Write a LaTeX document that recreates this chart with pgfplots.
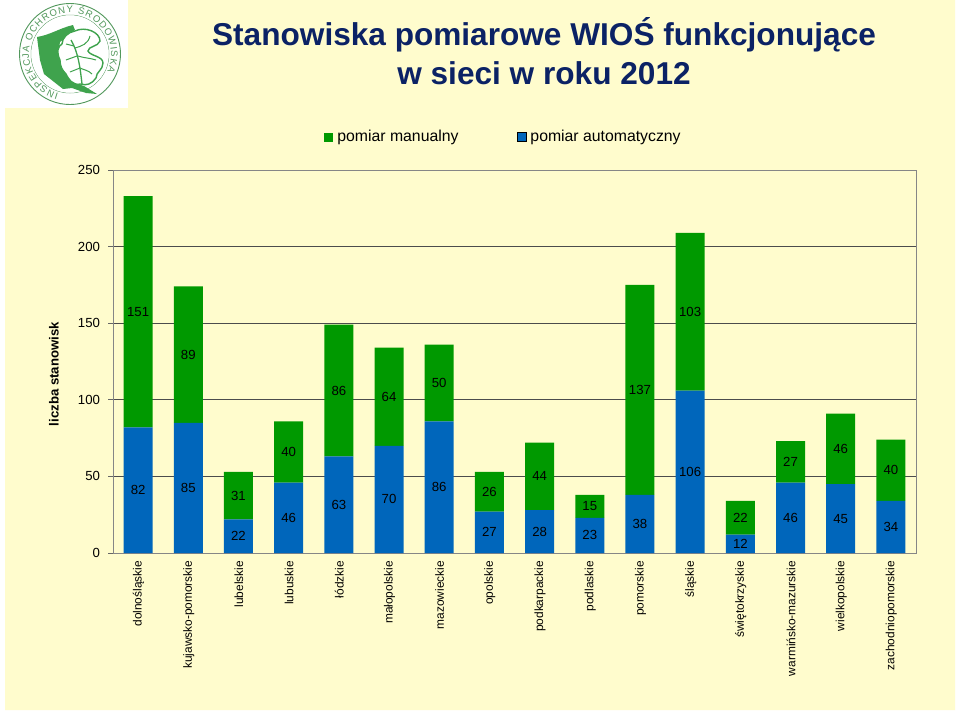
\documentclass[border=0pt]{standalone}
\usepackage{fontspec}
\setmainfont{Liberation Sans}
\usepackage{pgfplots}
\pgfplotsset{compat=1.18}
\usetikzlibrary{decorations.text}
\definecolor{cream}{HTML}{FFFCCD}
\definecolor{barg}{HTML}{009900}
\definecolor{barb}{HTML}{0066BB}
\definecolor{navy}{HTML}{0B2265}
\definecolor{axg}{HTML}{868686}
\definecolor{logog}{HTML}{3FA34D}
\pgfplotstableread{
x v
0 82
1 85
2 22
3 46
4 63
5 70
6 86
7 27
8 28
9 23
10 38
11 106
12 12
13 46
14 45
15 34
}\blue
\pgfplotstableread{
x v
0 151
1 89
2 31
3 40
4 86
5 64
6 50
7 26
8 44
9 15
10 137
11 103
12 22
13 27
14 46
15 40
}\green
\begin{document}
\begin{tikzpicture}[x=1pt,y=-1pt,every node/.style={inner sep=0pt,outer sep=0pt}]
\path[use as bounding box] (0,0) rectangle (960,716);
\fill[white] (0,0) rectangle (960,716);
\fill[cream] (128,0) -- (955,0) -- (955,710) -- (5,710) -- (5,108) -- (128,108) -- cycle;
% logo
\draw[logog!70!gray,line width=0.9pt] (70,54) circle (50.5);
\draw[logog!70!gray,line width=0.5pt] (70,54) circle (39);
\fill[white] (70,54) circle (38.7);
\fill[logog] (37,37) .. controls (50,35) and (60,28) .. (73,25) -- (75,30) -- (60,42) .. controls (57,55) and (62,70) .. (72,82) -- (84,86) -- (97,94) -- (86,93) -- (72,88) -- (63,89) -- (44,74) -- (40,60) -- cycle;
\draw[logog,line width=1.4pt,fill=white] (75,31) .. controls (85,26) and (100,32) .. (100,41)
  .. controls (98,47) and (88,46) .. (88,51) .. controls (90,56) and (103,56) .. (103,63)
  .. controls (103,70) and (96,72) .. (96,78) .. controls (92,84) and (86,86) .. (81,84)
  .. controls (72,86) and (68,78) .. (66,74) .. controls (62,70) and (60,66) .. (60,60)
  .. controls (56,52) and (58,46) .. (62,44) .. controls (62,38) and (68,32) .. (75,31) -- cycle;
\draw[logog,line width=1.3pt] (71,40) .. controls (78,52) and (80,66) .. (82,84);
\draw[logog,line width=1pt] (75,48) .. controls (82,46) and (88,44) .. (90,36) (78,56) .. controls (84,58) and (90,58) .. (96,60) (80,68) .. controls (84,70) and (88,70) .. (92,74) (74,46) -- (66,44) (77,56) -- (66,60) (80,68) -- (70,72);
\begin{scope}[x=1pt,y=1pt]
\path[decorate,decoration={text along path,text align=fit to path,text={|\fontsize{9.5}{10}\selectfont\color{logog!70!gray}|INSPEKCJA OCHRONY ŚRODOWISKA}}]
  (58.7,-93.4) arc[start angle=254,end angle=-25,radius=41];
\end{scope}
% title
\node[font=\fontsize{31.6}{36}\selectfont\bfseries,text=navy] at (544,34.5) {Stanowiska pomiarowe WIOŚ funkcjonujące};
\node[font=\fontsize{31.6}{36}\selectfont\bfseries,text=navy] at (544,73) {w sieci w roku 2012};
\begin{axis}[
  at={(113pt,-553pt)},anchor=south west,
  scale only axis,width=803pt,height=383pt,
  ybar stacked,bar width=29pt,
  xmin=-0.5,xmax=15.5,ymin=0,ymax=250,
  axis line style={axg,line width=1pt},
  ytick={0,50,100,150,200,250},
  ytick pos=left,tick align=outside,
  ymajorgrids,grid style={color=black!70,line width=1pt},
  tick style={color=black!60,line width=1pt},
  major tick length=5pt,
  xtick={0,...,15},
  xtick style={draw=none},
  xticklabels={dolnośląskie,kujawsko-pomorskie,lubelskie,lubuskie,łódzkie,małopolskie,mazowieckie,opolskie,podkarpackie,podlaskie,pomorskie,śląskie,świętokrzyskie,warmińsko-mazurskie,wielkopolskie,zachodniopomorskie},
  xticklabel style={rotate=90,anchor=east,font=\fontsize{11.9}{14}\selectfont,inner sep=0pt},
  x tick label style={yshift=-0.5pt,xshift=-3pt},
  yticklabel style={font=\fontsize{13.2}{15}\selectfont,inner sep=0pt,xshift=-8pt},
  /pgf/number format/assume math mode=true,
  ylabel={\bfseries liczba stanowisk},
  ylabel style={font=\fontsize{13.2}{15}\selectfont,at={(axis description cs:-0.0735,0.467)},anchor=center,inner sep=0pt},
  nodes near coords,
  every node near coord/.style={anchor=center,inner sep=0pt,font=\fontsize{13.2}{15}\selectfont,text=black},
  point meta=explicit symbolic,
  legend style={at={(rel axis cs:0.5,1)},anchor=center,xshift=-11pt,yshift=33pt,draw=none,fill=none,font=\fontsize{15.8}{18}\selectfont,legend columns=2,/tikz/every odd column/.style={column sep=2pt},/tikz/every even column/.style={column sep=56.5pt}},
  legend cell align=left,
  legend image code/.code={\fill[#1] (0pt,-4.5pt) rectangle (9pt,4.5pt);},
]
\addplot[fill=barb,draw=none,forget plot] table[x=x,y=v,meta=v] {\blue};
\addplot[fill=barg,draw=none] table[x=x,y=v,meta=v] {\green};
\addlegendentry{pomiar manualny}
\addlegendimage{fill=barb}
\addlegendentry{pomiar automatyczny}
\end{axis}
\end{tikzpicture}
\end{document}
